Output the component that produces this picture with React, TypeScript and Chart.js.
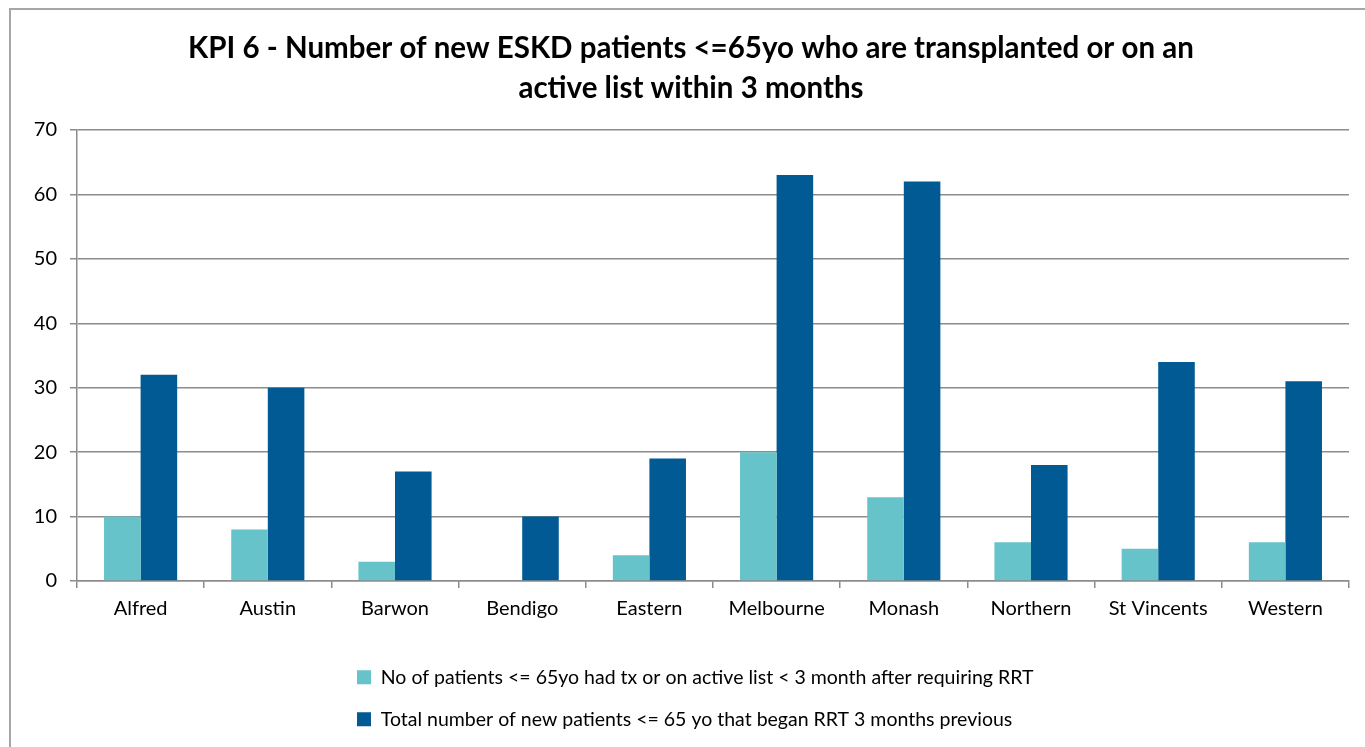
import React, { useEffect, useRef } from "react";
import { Chart, registerables } from "chart.js";

Chart.register(...registerables);

const categories = ["Alfred", "Austin", "Barwon", "Bendigo", "Eastern", "Melbourne", "Monash", "Northern", "St Vincents", "Western"];
const transplantedOrListed = [10, 8, 3, 0, 4, 20, 13, 6, 5, 6];
const totalNewPatients = [32, 30, 17, 10, 19, 63, 62, 18, 34, 31];
const seriesLabels = [
  "No of patients <= 65yo had tx or on active list < 3 month after requiring RRT",
  "Total number of new patients <= 65 yo that began RRT 3 months previous",
];
const titleLines = [
  "KPI 6 - Number of new ESKD patients <=65yo who are transplanted or on an",
  "active list within 3 months",
];

const FONT = "Lato, 'Open Sans', sans-serif";
const GRID = "#8c8c8c";

export default function App() {
  const ref = useRef<HTMLCanvasElement | null>(null);
  useEffect(() => {
    if (!ref.current) return;
    const legendShift = {
      id: "legendShift",
      beforeDraw(chart: any) {
        if (chart.legend) {
          const w = chart.legend.width;
          chart.legend.left = 323.5;
          chart.legend.right = 323.5 + w;
        }
      },
    };
    const chart = new Chart(ref.current, {
      type: "bar",
      data: {
        labels: categories,
        datasets: [
          { label: seriesLabels[0], data: transplantedOrListed, backgroundColor: "#66c3c9", borderWidth: 0 },
          { label: seriesLabels[1], data: totalNewPatients, backgroundColor: "#015a93", borderWidth: 0 },
        ],
      },
      options: {
        animation: false,
        responsive: false,
        layout: { padding: { left: 22, right: 22, top: 0, bottom: 8 } },
        datasets: { bar: { categoryPercentage: 0.575, barPercentage: 1 } },
        plugins: {
          title: {
            display: true,
            text: titleLines,
            color: "#000",
            font: { family: FONT, size: 29.5, weight: "bold", lineHeight: 40 / 29.5 },
            padding: { top: 18, bottom: 22 },
          },
          legend: {
            position: "bottom",
            align: "start",
            labels: {
              color: "#000",
              font: { family: FONT, size: 19.5 },
              boxWidth: 14,
              boxHeight: 14,
              padding: 22.5,
            },
          },
          tooltip: { enabled: false },
        },
        scales: {
          x: {
            grid: { drawOnChartArea: false, drawTicks: true, tickLength: 7, color: GRID, lineWidth: 1.5 },
            border: { display: true, color: GRID, width: 1.5 },
            ticks: { color: "#000", font: { family: FONT, size: 20 }, padding: 9, maxRotation: 0, autoSkip: false },
            afterFit(scale: any) { scale.height = 64; },
          },
          y: {
            min: 0,
            max: 70,
            ticks: { stepSize: 10, color: "#000", font: { family: FONT, size: 20 }, padding: 13 },
            grid: { color: GRID, lineWidth: 1.5, tickLength: 7 },
            border: { display: true, color: GRID, width: 1.5 },
            afterFit(scale: any) { scale.width = 44; },
          },
        },
      },
      plugins: [legendShift],
    });
    return () => chart.destroy();
  }, []);

  return (
    <div style={{ position: "fixed", left: 0, top: 0, width: 1365, height: 747, overflow: "hidden", background: "#fff" }}>
      <div style={{ position: "absolute", left: 9, top: 8, width: 1360, height: 760, border: "2px solid #a6a6a6", background: "#fff" }}>
        <canvas ref={ref} width={1360} height={737} style={{ display: "block", width: 1360, height: 737 }} />
      </div>
    </div>
  );
}
